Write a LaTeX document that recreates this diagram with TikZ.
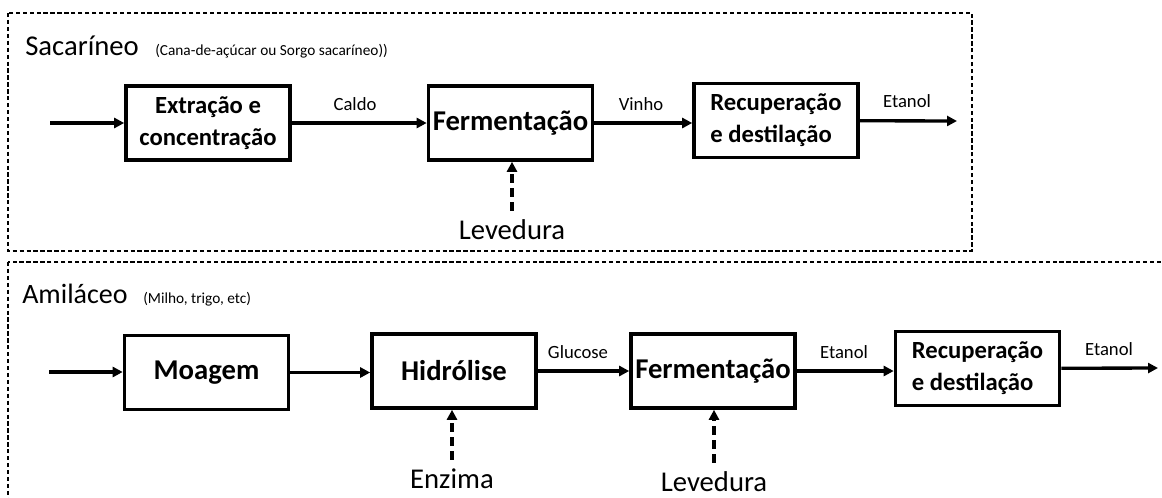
\documentclass[tikz,border=0pt]{standalone}
\usepackage{fontspec}
\setmainfont{Carlito}
\usetikzlibrary{arrows.meta}

\begin{document}
\begin{tikzpicture}[x=0.75pt,y=0.75pt,yscale=-1,xscale=1,
  proc/.style={draw, line width=2.7pt, minimum width=123pt, minimum height=55.5pt, inner sep=0.75pt},
  big/.style={font=\bfseries\fontsize{21.5}{25}\selectfont},
  mid/.style={font=\bfseries\fontsize{18.5}{24}\selectfont},
  grp/.style={draw, line width=1.3pt, dash pattern=on 3.2pt off 2pt},
  flow/.style={line width=2.5pt, -{Triangle[length=7.5pt,width=7.5pt]}},
  feed/.style={flow, dash pattern=on 6.5pt off 4pt, shorten <=6pt},
  lbl/.style={inner sep=0.75pt, font=\fontsize{14}{17}\selectfont},
  head/.style={anchor=base west, inner sep=0pt, font=\fontsize{21.5}{26}\selectfont},
  note/.style={anchor=base west, inner sep=0pt, font=\fontsize{11.5}{14}\selectfont},
  feedlbl/.style={inner sep=0.75pt, font=\fontsize{21.5}{25}\selectfont}]
\useasboundingbox (0,0) rectangle (1162,497);
\clip (0,0) rectangle (1162,497);

%Dashed Frames
\draw [grp] (8,13) rectangle (972,251);
\draw [grp] (8,262) rectangle (1190,530);

% Text Node
\draw (25,55) node (sacTitle) [head] {Sacaríneo};
% Text Node
\draw (155,55) node (sacNote) [note] {(Cana-de-açúcar ou Sorgo sacaríneo))};
% Text Node
\draw (22,303) node (amiTitle) [head, font=\fontsize{21}{26}\selectfont] {Amiláceo};
% Text Node
\draw (143,303) node (amiNote) [note] {(Milho, trigo, etc)};

% Process Boxes
\draw (208,123) node (ext) [proc, mid, align=center] {Extração e\\concentração};
\draw (510.5,123) node (ferA) [proc, big] {Fermentação};
\draw (776,120.5) node (recA) [proc, mid, align=left] {Recuperação\\e destilação};
\draw (206.5,372.5) node (moa) [proc, big] {Moagem};
\draw (454,371) node (hid) [proc, big] {Hidrólise};
\draw (713,371) node (ferB) [proc, big] {Fermentação};
\draw (977.5,368.5) node (recB) [proc, mid, align=left] {Recuperação\\e destilação};

% Free Ends
\coordinate (inA) at (50,123);
\coordinate (outA) at (957,121);
\coordinate (inB) at (49,372);
\coordinate (outB) at (1158,368);

% Text Node
\draw (355,104) node (caldo) [lbl] {Caldo};
% Text Node
\draw (641,104) node (vinho) [lbl] {Vinho};
% Text Node
\draw (907,101) node (etaA) [lbl] {Etanol};
% Text Node
\draw (578,352) node (gluc) [lbl] {Glucose};
% Text Node
\draw (844,352) node (etaB) [lbl] {Etanol};
% Text Node
\draw (1109,349) node (etaC) [lbl] {Etanol};

% Text Node
\draw (512,230) node (levA) [feedlbl] {Levedura};
% Text Node
\draw (452,479) node (enz) [feedlbl] {Enzima};
% Text Node
\draw (714,482) node (levB) [feedlbl] {Levedura};

%Straight Lines
\draw [flow] (inA) -- (inA -| ext.west);
\draw [flow] (ext) -- (ferA);
\draw [flow] (ferA.east) -- (ferA.east -| recA.west);
\draw [flow] (recA) -- (outA);
\draw [flow] (inB) -- (inB -| moa.west);
\draw [flow] (moa.east) -- (moa.east -| hid.west);
\draw [flow] (hid) -- (ferB);
\draw [flow] (ferB.east) -- (ferB.east -| recB.west);
\draw [flow] (recB) -- (outB);

%Dashed Lines
\draw [feed] (levA.north) -- (levA.north |- ferA.south);
\draw [feed] (enz.north) -- (enz.north |- hid.south);
\draw [feed] (levB.north) -- (levB.north |- ferB.south);

\end{tikzpicture}
\end{document}
